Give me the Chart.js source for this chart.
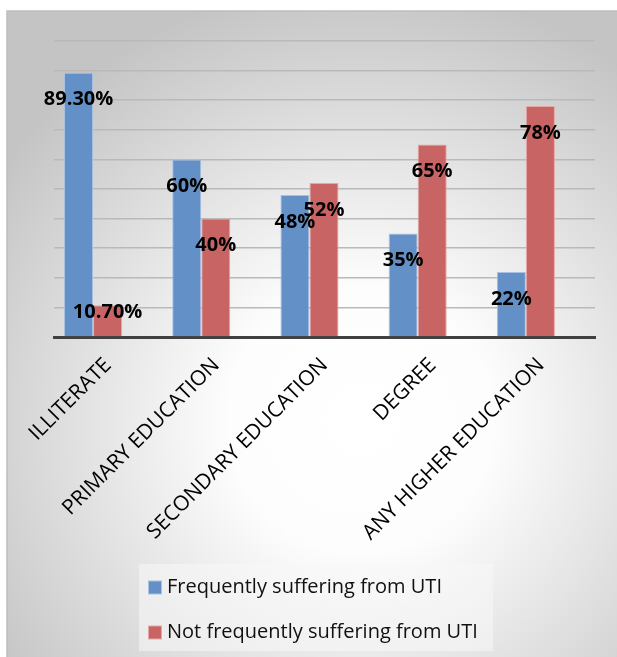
<!DOCTYPE html>
<html><head><meta charset="utf-8">
<script src="https://cdn.jsdelivr.net/npm/chart.js@4.4.1/dist/chart.umd.min.js"></script>
<style>html,body{margin:0;padding:0;background:#fff;}canvas{display:block}</style>
</head><body>
<canvas id="c" width="617" height="657"></canvas>
<script>
// ---- data ----
const categories = ['ILLITERATE', 'PRIMARY EDUCATION', 'SECONDARY EDUCATION', 'DEGREE', 'ANY HIGHER EDUCATION'];
const seriesNames = ['Frequently suffering from UTI', 'Not frequently suffering from UTI'];
const frequent = [89.3, 60, 48, 35, 22];
const notFrequent = [10.7, 40, 52, 65, 78];
const frequentLabels = ['89.30%', '60%', '48%', '35%', '22%'];
const notFrequentLabels = ['10.70%', '40%', '52%', '65%', '78%'];
const yMin = 0, yMax = 100, yStep = 10;

// ---- styles ----
const FONT = "'Open Sans', 'DejaVu Sans', sans-serif";
const BLUE = '#6390c6', BLUE_EDGE = '#a8c1e2';
const RED = '#c86564', RED_EDGE = '#e4a7a6';
const BAR_SHIFT = 15 / 108; // bars sit slightly left of the category label positions

const toPoints = arr => arr.map((v, i) => ({ x: i, y: v }));

const bgPlugin = {
  id: 'bg',
  beforeDraw(chart) {
    const ctx = chart.ctx, W = chart.width, H = chart.height;
    ctx.save();
    ctx.fillStyle = '#ffffff';
    ctx.fillRect(0, 0, W, H);
    const g = ctx.createRadialGradient(360, 420, 0, 360, 420, 440);
    g.addColorStop(0, '#ffffff');
    g.addColorStop(0.3, '#fdfdfd');
    g.addColorStop(1, '#c4c4c4');
    ctx.fillStyle = g;
    ctx.fillRect(7, 11, W - 7, H - 11);
    ctx.strokeStyle = '#bdbdbd';
    ctx.lineWidth = 1.5;
    ctx.beginPath();
    ctx.moveTo(7, H); ctx.lineTo(7, 11); ctx.lineTo(W, 11);
    ctx.stroke();
    ctx.restore();
  }
};

const labelPlugin = {
  id: 'valueLabels',
  afterDatasetsDraw(chart) {
    const ctx = chart.ctx;
    const base = chart.scales.y.getPixelForValue(0);
    ctx.save();
    ctx.font = "bold 20px " + FONT;
    ctx.fillStyle = '#000';
    ctx.textAlign = 'center';
    ctx.textBaseline = 'middle';
    chart.data.datasets.forEach((ds, di) => {
      const meta = chart.getDatasetMeta(di);
      meta.data.forEach((bar, i) => {
        const y = Math.min(bar.y + 27, base - 25);
        ctx.fillText(ds.valueLabels[i], bar.x, y);
      });
    });
    ctx.restore();
  }
};

const legendPlugin = {
  id: 'customLegend',
  afterDraw(chart) {
    const ctx = chart.ctx;
    const top = chart.scales.x.bottom;
    ctx.save();
    ctx.fillStyle = 'rgba(248,248,248,0.55)';
    ctx.fillRect(139, top, 354, 87);
    ctx.font = "20px " + FONT;
    ctx.textBaseline = 'middle';
    ctx.textAlign = 'left';
    chart.data.datasets.forEach((ds, i) => {
      const cy = top + 23.5 + i * 45;
      ctx.fillStyle = ds.borderColor;
      ctx.fillRect(148, cy - 7, 14, 14);
      ctx.fillStyle = ds.backgroundColor;
      ctx.fillRect(149, cy - 6, 12, 12);
      ctx.fillStyle = '#111';
      ctx.fillText(ds.label, 167, cy);
    });
    ctx.restore();
  }
};

new Chart(document.getElementById('c'), {
  type: 'bar',
  data: {
    labels: categories,
    datasets: [
      { label: seriesNames[0], data: toPoints(frequent), valueLabels: frequentLabels,
        backgroundColor: BLUE, borderColor: BLUE_EDGE, borderWidth: 1, xAxisID: 'xb' },
      { label: seriesNames[1], data: toPoints(notFrequent), valueLabels: notFrequentLabels,
        backgroundColor: RED, borderColor: RED_EDGE, borderWidth: 1, xAxisID: 'xb' }
    ]
  },
  options: {
    responsive: false,
    animation: false,
    categoryPercentage: 0.537,
    barPercentage: 1,
    layout: { padding: { left: 54, right: 22, top: 41, bottom: 93 } },
    plugins: { legend: { display: false }, tooltip: { enabled: false } },
    scales: {
      x: {
        type: 'category',
        position: 'bottom',
        grid: { display: false },
        border: { display: true, color: '#404040', width: 3 },
        ticks: {
          autoSkip: false, maxRotation: 45, minRotation: 45,
          color: '#000', padding: 8,
          font: { family: FONT, size: 21 }
        },
        afterFit(scale) { scale.height = 227; }
      },
      xb: {
        type: 'linear',
        display: false,
        offset: false,
        bounds: 'ticks',
        min: -0.5 + BAR_SHIFT,
        max: categories.length - 0.5 + BAR_SHIFT
      },
      y: {
        min: yMin, max: yMax,
        ticks: { display: false, stepSize: yStep },
        grid: { color: '#b9b9b9', lineWidth: 1.5, drawTicks: false },
        border: { display: false }
      }
    }
  },
  plugins: [bgPlugin, labelPlugin, legendPlugin]
});
</script>
</body></html>
